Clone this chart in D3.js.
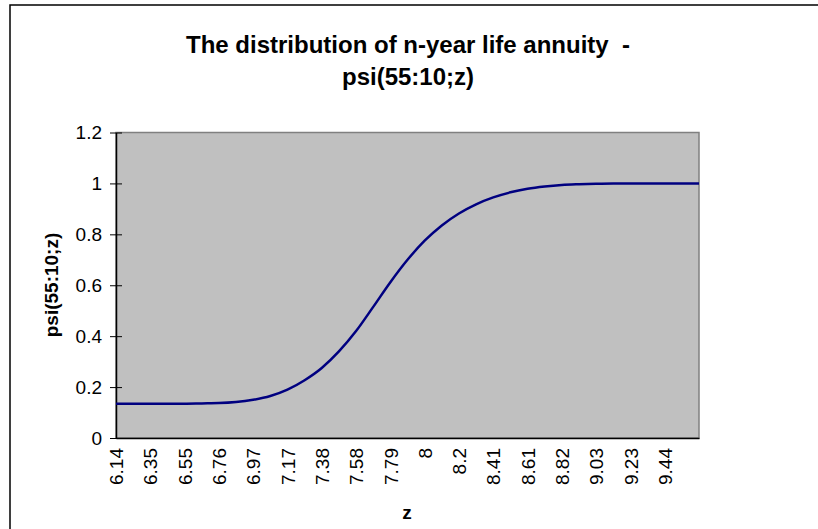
<!DOCTYPE html>
<html><head><meta charset="utf-8">
<script src="https://cdn.jsdelivr.net/npm/d3@7"></script>
<style>body{margin:0;background:#fff;}svg{display:block;font-family:Arial,"Liberation Sans",sans-serif;}</style>
</head><body>
<svg id="c" width="818" height="529"></svg>
<script>
const categories = ["6.14","6.24","6.35","6.45","6.55","6.66","6.76","6.86","6.97","7.07","7.17","7.28","7.38","7.48","7.58","7.69","7.79","7.89","8","8.10","8.2","8.30","8.41","8.51","8.61","8.72","8.82","8.92","9.03","9.13","9.23","9.34","9.44","9.54","9.65"];
const psiValues = [0.135,0.135,0.135,0.135,0.135,0.136,0.137,0.141,0.150,0.165,0.190,0.227,0.275,0.340,0.420,0.515,0.612,0.700,0.775,0.835,0.882,0.918,0.945,0.965,0.979,0.988,0.994,0.997,0.999,1.0,1.0,1.0,1.0,1.0,1.0];
const xTickLabels = ["6.14","6.35","6.55","6.76","6.97","7.17","7.38","7.58","7.79","8","8.2","8.41","8.61","8.82","9.03","9.23","9.44"];
const yTicks = [0,0.2,0.4,0.6,0.8,1,1.2];
const titleLines = ["The distribution of n-year life annuity  -","psi(55:10;z)"];

const FONT = "Arial, 'Liberation Sans', sans-serif";
const svg = d3.select("#c");
const L=116,R=699,T=132.5,B=438;

svg.append("rect").attr("x",10).attr("y",5).attr("width",840).attr("height",560)
  .attr("fill","#fff").attr("stroke","#000").attr("stroke-width",1.5);

const x = d3.scalePoint().domain(categories).range([L,R]);
const y = d3.scaleLinear().domain([0,1.2]).range([B,T]);

svg.append("rect").attr("x",L).attr("y",T).attr("width",R-L).attr("height",B-T)
  .attr("fill","#C0C0C0").attr("stroke","#808080").attr("stroke-width",1.5);

// y axis
const ya = svg.append("g").attr("transform",`translate(${L},0)`)
  .call(d3.axisLeft(y).tickValues(yTicks).tickSizeInner(6).tickSizeOuter(0).tickPadding(8)
    .tickFormat(d=>String(+d.toFixed(1))));
ya.attr("font-size",19).attr("font-family",FONT);
ya.select(".domain").attr("stroke","#000").attr("stroke-width",1.5);
ya.selectAll(".tick line").attr("stroke","#000").attr("x2",6).attr("x1",-6);
ya.selectAll(".tick text").attr("fill","#000");

// x axis
const xa = svg.append("g").attr("transform",`translate(0,${B})`)
  .call(d3.axisBottom(x).tickValues(xTickLabels).tickSize(0).tickPadding(0));
xa.attr("font-size",19).attr("font-family",FONT);
xa.select(".domain").attr("stroke","#000").attr("stroke-width",1.5);
xa.selectAll(".tick text").attr("fill","#000")
  .attr("transform","rotate(-90)").attr("text-anchor","end")
  .attr("x",-10).attr("y",0).attr("dy","0.35em");

// line
const line = d3.line().x((d,i)=>x(categories[i])).y(d=>y(d)).curve(d3.curveMonotoneX);
svg.append("path").datum(psiValues).attr("d",line).attr("fill","none")
  .attr("stroke","#000080").attr("stroke-width",2.5);

// titles
svg.append("g").selectAll("text").data(titleLines).join("text")
  .attr("x",408).attr("y",(d,i)=>53+i*32).attr("text-anchor","middle")
  .style("white-space","pre").attr("font-family",FONT)
  .attr("font-size",24).attr("font-weight","bold").text(d=>d);
svg.append("text").attr("transform","translate(58,285) rotate(-90)").attr("text-anchor","middle")
  .attr("font-family",FONT).attr("font-size",19).attr("font-weight","bold").text("psi(55:10;z)");
svg.append("text").attr("x",407).attr("y",519).attr("text-anchor","middle")
  .attr("font-family",FONT).attr("font-size",19).attr("font-weight","bold").text("z");
</script>
</body></html>
